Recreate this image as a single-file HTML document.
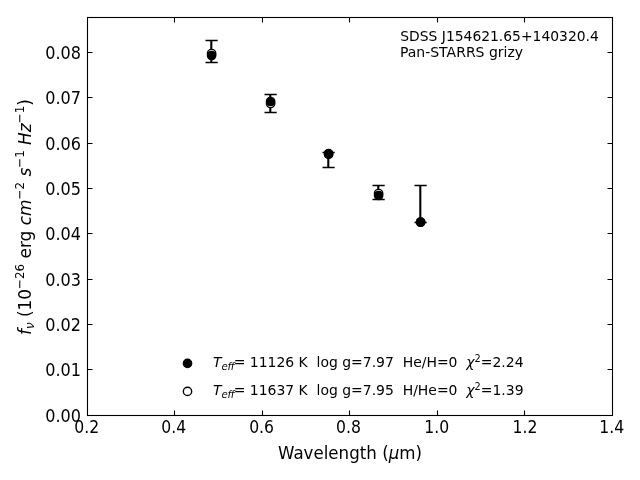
<!DOCTYPE html>
<html lang="en"><head><meta charset="utf-8"><title>SDSS J154621.65+140320.4</title>
<style>html,body{margin:0;padding:0;background:#fff;overflow:hidden}svg{display:block}text{font-family:"DejaVu Sans","Liberation Sans",sans-serif;fill:#000}.i{font-style:oblique}</style></head><body>
<svg width="640" height="480" viewBox="0 0 640 480">
<rect x="0" y="0" width="640" height="480" fill="#fff"/>
<path d="M174.5 415.5v-5.0M174.5 17.5v5.0M262.5 415.5v-5.0M262.5 17.5v5.0M349.5 415.5v-5.0M349.5 17.5v5.0M437.5 415.5v-5.0M437.5 17.5v5.0M524.5 415.5v-5.0M524.5 17.5v5.0M87.5 369.5h5.0M612.5 369.5h-5.0M87.5 324.5h5.0M612.5 324.5h-5.0M87.5 279.5h5.0M612.5 279.5h-5.0M87.5 233.5h5.0M612.5 233.5h-5.0M87.5 188.5h5.0M612.5 188.5h-5.0M87.5 143.5h5.0M612.5 143.5h-5.0M87.5 97.5h5.0M612.5 97.5h-5.0M87.5 52.5h5.0M612.5 52.5h-5.0" stroke="#000" stroke-width="1.1" fill="none"/>
<rect x="87.5" y="17.5" width="525.0" height="398.0" fill="none" stroke="#000" stroke-width="1.1"/>
<text transform="translate(86.8 433.4) scale(0.94 1.085)" font-size="16.667" text-anchor="middle">0.2</text>
<text transform="translate(173.8 433.4) scale(0.94 1.085)" font-size="16.667" text-anchor="middle">0.4</text>
<text transform="translate(261.6 433.4) scale(0.94 1.085)" font-size="16.667" text-anchor="middle">0.6</text>
<text transform="translate(348.5 433.4) scale(0.94 1.085)" font-size="16.667" text-anchor="middle">0.8</text>
<text transform="translate(436.8 433.4) scale(0.94 1.085)" font-size="16.667" text-anchor="middle">1.0</text>
<text transform="translate(525.0 433.4) scale(0.94 1.085)" font-size="16.667" text-anchor="middle">1.2</text>
<text transform="translate(611.8 433.4) scale(0.94 1.085)" font-size="16.667" text-anchor="middle">1.4</text>
<text transform="translate(81.0 422.1) scale(0.965 1.085)" font-size="16.667" text-anchor="end">0.00</text>
<text transform="translate(81.0 376.1) scale(0.965 1.085)" font-size="16.667" text-anchor="end">0.01</text>
<text transform="translate(81.0 331.1) scale(0.965 1.085)" font-size="16.667" text-anchor="end">0.02</text>
<text transform="translate(81.0 286.1) scale(0.965 1.085)" font-size="16.667" text-anchor="end">0.03</text>
<text transform="translate(81.0 240.1) scale(0.965 1.085)" font-size="16.667" text-anchor="end">0.04</text>
<text transform="translate(81.0 195.1) scale(0.965 1.085)" font-size="16.667" text-anchor="end">0.05</text>
<text transform="translate(81.0 150.1) scale(0.965 1.085)" font-size="16.667" text-anchor="end">0.06</text>
<text transform="translate(81.0 104.1) scale(0.965 1.085)" font-size="16.667" text-anchor="end">0.07</text>
<text transform="translate(81.0 59.1) scale(0.965 1.085)" font-size="16.667" text-anchor="end">0.08</text>
<text transform="translate(350 459.2) scale(1.0 1.1)" font-size="16.667" text-anchor="middle">Wavelength (<tspan class="i">μ</tspan>m)</text>
<text transform="translate(31.4 217.1) rotate(-90) scale(1.017 1.1)" font-size="16.667" text-anchor="middle"><tspan class="i">f</tspan><tspan class="i" font-size="11.667" dy="2.7">ν</tspan><tspan dy="-2.7"> (10</tspan><tspan font-size="11.667" dy="-6.4">−26</tspan><tspan dy="6.4"> erg </tspan><tspan class="i">cm</tspan><tspan font-size="11.667" dy="-6.4">−2</tspan><tspan dy="6.4"> </tspan><tspan class="i">s</tspan><tspan font-size="11.667" dy="-6.4">−1</tspan><tspan dy="6.4"> </tspan><tspan class="i">Hz</tspan><tspan font-size="11.667" dy="-6.4">−1</tspan><tspan dy="6.4">)</tspan></text>
<path d="M211.3 40.5V62.5M270.3 94.5V112.5M328.3 152.5V167.5M378.3 185.5V199.5M420.3 185.5V222.5" stroke="#000" stroke-width="2.08" fill="none"/>
<path d="M205.5 40.5h12.2M205.5 62.5h12.2M264.5 94.5h12.2M264.5 112.5h12.2M322.5 152.5h12.2M322.5 167.5h12.2M372.5 185.5h12.2M372.5 199.5h12.2M414.5 185.5h12.2M414.5 222.5h12.2" stroke="#000" stroke-width="1.39" fill="none"/>
<circle cx="211.6" cy="53.5" r="4.17" fill="#fff" stroke="#000" stroke-width="1.39"/>
<circle cx="270.6" cy="103.5" r="4.17" fill="#fff" stroke="#000" stroke-width="1.39"/>
<circle cx="328.6" cy="153.5" r="4.17" fill="#fff" stroke="#000" stroke-width="1.39"/>
<circle cx="378.6" cy="193.5" r="4.17" fill="#fff" stroke="#000" stroke-width="1.39"/>
<circle cx="420.6" cy="222.0" r="4.17" fill="#fff" stroke="#000" stroke-width="1.39"/>
<circle cx="211.6" cy="55.5" r="4.17" fill="#000" stroke="#000" stroke-width="1.39"/>
<circle cx="270.6" cy="101.5" r="4.17" fill="#000" stroke="#000" stroke-width="1.39"/>
<circle cx="328.6" cy="154.4" r="4.17" fill="#000" stroke="#000" stroke-width="1.39"/>
<circle cx="378.6" cy="195.5" r="4.17" fill="#000" stroke="#000" stroke-width="1.39"/>
<circle cx="420.6" cy="222.2" r="4.17" fill="#000" stroke="#000" stroke-width="1.39"/>
<text transform="translate(400.3 41)" font-size="13.889" text-anchor="start">SDSS J154621.65+140320.4</text>
<text transform="translate(399.9 57) scale(1.0096 1.0)" font-size="13.889" text-anchor="start">Pan-STARRS grizy</text>
<circle cx="187.5" cy="363.4" r="4.17" fill="#000" stroke="#000" stroke-width="1.39"/>
<circle cx="187.5" cy="391.4" r="4.17" fill="#fff" stroke="#000" stroke-width="1.39"/>
<text transform="translate(213.0 367) scale(1.005 1.0)" font-size="13.889" text-anchor="start" xml:space="preserve" style="white-space:pre"><tspan class="i">T</tspan><tspan class="i" font-size="10.111" letter-spacing="-0.35" dy="2.7">eff</tspan><tspan dy="-2.7" dx="-0.2">= 11126 K  log g=7.97  He/H=0  </tspan><tspan class="i">χ</tspan><tspan font-size="9.722" dy="-5.3">2</tspan><tspan dy="5.3">=2.24</tspan></text>
<text transform="translate(213.0 395) scale(1.005 1.0)" font-size="13.889" text-anchor="start" xml:space="preserve" style="white-space:pre"><tspan class="i">T</tspan><tspan class="i" font-size="10.111" letter-spacing="-0.35" dy="2.7">eff</tspan><tspan dy="-2.7" dx="-0.2">= 11637 K  log g=7.95  H/He=0  </tspan><tspan class="i">χ</tspan><tspan font-size="9.722" dy="-5.3">2</tspan><tspan dy="5.3">=1.39</tspan></text>
</svg></body></html>
